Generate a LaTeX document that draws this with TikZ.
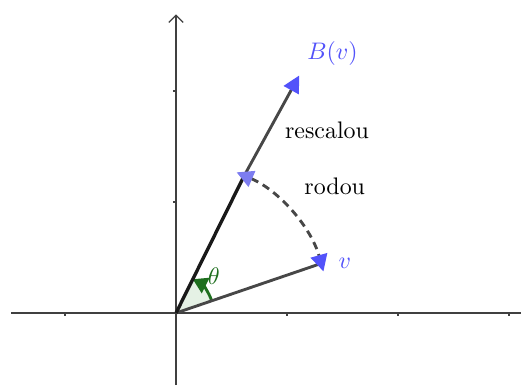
\documentclass[tikz,border=0pt]{standalone}
\usetikzlibrary{arrows.meta}
\definecolor{vblue}{RGB}{82,82,250}
\definecolor{lblue}{RGB}{125,125,240}
\definecolor{agreen}{RGB}{30,110,30}

\begin{document}
\begin{tikzpicture}[x=1.63cm,y=1.63cm,
  ax/.style={line width=0.5pt,black!75},
  vec/.style={line width=1.2pt,black!72},
  btip/.style={-{Triangle[length=7pt,width=7pt,color=vblue]}},
  lbl/.style={font=\normalsize},
]
  \useasboundingbox (-1.586,-0.649) rectangle (3.108,2.820);
  % axes
  \draw[ax] (-1.486,0) -- (3.108,0);
  \draw[ax,-{Straight Barb[length=3pt,width=6pt]}] (0,-0.649) -- (0,2.69);
  \foreach \t in {-1,1,2,3}
    \draw[ax] (\t,0) -- (\t,-0.03);
  \foreach \t in {1,2}
    \draw[ax] (0,\t) -- (-0.03,\t);
  % points
  \coordinate (O) at (0,0);
  \coordinate (V) at (18.85:1.38);
  \coordinate (R) at (63.6:1.38);
  \coordinate (B) at (1.11,2.14);
  % angle
  \fill[green!45!black!10] (O) -- (18.85:0.34) arc[start angle=18.85,end angle=63.6,radius=0.34] -- cycle;
  \draw[agreen,line width=1.2pt,-{Triangle[length=6pt,width=7pt]}]
    (18.85:0.34) arc[start angle=18.85,end angle=63.6,radius=0.34];
  % vectors
  \draw[vec] (O) -- (V);
  \draw[line width=1.4pt,black!90] (O) -- (R);
  \draw[vec,btip] (R) -- (B);
  \draw[vec,dash pattern=on 3.2pt off 2.2pt,
    {Triangle[length=7pt,width=7pt,color=lblue]}-{Triangle[length=7pt,width=7pt,color=vblue]}]
    (66.7:1.38) arc[start angle=66.7,end angle=15.75,radius=1.38];
  % labels
  \node[lbl,text=agreen] (th) at (0.34,0.33) {$\theta$};
  \node[lbl,text=vblue] (lv) at (1.52,0.45) {$v$};
  \node[lbl,text=vblue] (lb) at (1.41,2.34) {$B(v)$};
  \node[lbl] (resc) at (1.36,1.65) {rescalou};
  \node[lbl] (rod) at (1.43,1.14) {rodou};
\end{tikzpicture}
\end{document}
